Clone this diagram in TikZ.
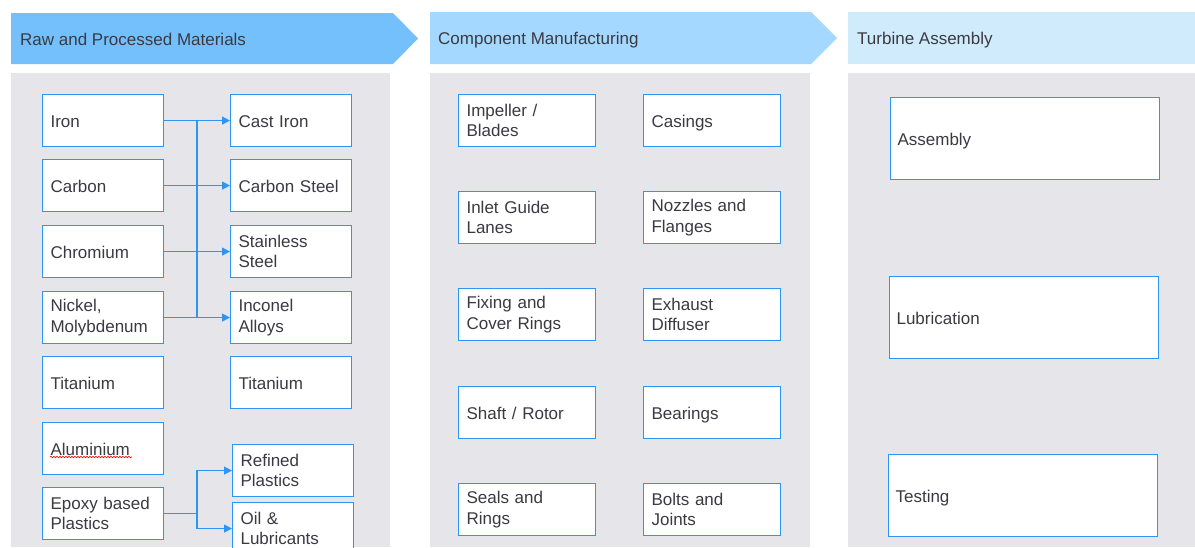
\documentclass[tikz,border=0pt]{standalone}
\usepackage{fontspec}
\setmainfont{Liberation Sans}
\usetikzlibrary{arrows.meta,decorations.pathmorphing}
\definecolor{panelc}{RGB}{229,229,234}
\definecolor{hone}{RGB}{116,192,252}
\definecolor{htwo}{RGB}{165,216,255}
\definecolor{hthree}{RGB}{208,235,252}
\definecolor{textc}{RGB}{58,58,66}
\definecolor{boxblue}{RGB}{45,150,245}
\tikzset{
  txt/.style={text=textc, font=\fontsize{17}{20.5}\selectfont},
  one/.style={text height=13pt, text depth=0pt},
  box/.style={txt, draw=boxblue, fill=white, line width=1.1pt, anchor=north west,
              inner xsep=8pt, inner ysep=0pt, align=left},
  lbox/.style={box, minimum width=121pt, minimum height=52pt, text width=105pt},
  mbox/.style={box, minimum width=137pt, minimum height=52pt, text width=121pt},
  rbox/.style={box, one, minimum width=269pt, minimum height=82pt, text width=255pt, inner xsep=7pt},
  conn/.style={draw=boxblue, line width=1.3pt, -{Triangle[length=8pt,width=8pt]}},
  bus/.style={draw=boxblue, line width=1.3pt},
  htxt/.style={txt, one, anchor=west, inner xsep=0pt}
}
\begin{document}
\begin{tikzpicture}[x=1pt,y=-1pt]
\clip (0,0) rectangle (1195,547);
\fill[white] (0,0) rectangle (1195,547);
% headers
\fill[hone] (11,13) -- (393,13) -- (418,38.5) -- (393,64) -- (11,64) -- cycle;
\node[htxt] (h1) at (20,39) {Raw and Processed Materials};
\fill[htwo] (430,12) -- (811,12) -- (837,38) -- (811,64) -- (430,64) -- cycle;
\node[htxt] (h2) at (438,38) {Component Manufacturing};
\fill[hthree] (848,12) rectangle (1195,64);
\node[htxt] (h3) at (857,38) {Turbine Assembly};
% panels
\fill[panelc] (11,73) rectangle (390,547);
\fill[panelc] (430,73) rectangle (810,547);
\fill[panelc] (848,73) rectangle (1195,547);
% column 1
\node[lbox, one] (iron) at (42,94) {Iron};
\node[lbox, one] (carbon) at (42,159) {Carbon};
\node[lbox, one] (chrom) at (42,225) {Chromium};
\node[lbox] (nickel) at (42,291) {Nickel,\\Molybdenum};
\node[lbox, one] (tit) at (42,356) {Titanium};
\node[lbox, one] (alu) at (42,422) {Aluminium};
\node[lbox] (epoxy) at (42,487) {Epoxy based\\Plastics};
\node[lbox, one] (cast) at (230,94) {Cast Iron};
\node[lbox, one] (csteel) at (230,159) {Carbon Steel};
\node[lbox] (sst) at (230,225) {Stainless\\Steel};
\node[lbox] (inc) at (230,291) {Inconel\\Alloys};
\node[lbox, one] (tit2) at (230,356) {Titanium};
\node[lbox] (refined) at (232,444) {Refined\\Plastics};
\node[lbox] (oil) at (232,502) {Oil \&\\Lubricants};
\draw[red, line width=0.6pt, decorate, decoration={snake, amplitude=0.8pt, segment length=3pt}] (50,457) -- (132,457);
% connectors
\coordinate (busx) at (197,0);
\draw[conn] (iron.east) -- (cast.west);
\draw[conn] (carbon.east) -- (csteel.west);
\draw[conn] (chrom.east) -- (sst.west);
\draw[conn] (nickel.east) -- (inc.west);
\draw[bus] (iron.east -| busx) -- (nickel.east -| busx);
\draw[conn] (epoxy.east) -- (epoxy.east -| busx) |- (refined.west);
\draw[conn] (epoxy.east -| busx) |- (oil.west);
% column 2
\node[mbox] (imp) at (458,94) {Impeller /\\Blades};
\node[mbox] (inlet) at (458,191) {Inlet Guide\\Lanes};
\node[mbox] (fix) at (458,288) {Fixing and\\Cover Rings};
\node[mbox, one] (shaft) at (458,386) {Shaft / Rotor};
\node[mbox] (seals) at (458,483) {Seals and\\Rings};
\node[mbox, one] (cas) at (643,94) {Casings};
\node[mbox] (noz) at (643,191) {Nozzles and\\Flanges};
\node[mbox] (exh) at (643,288) {Exhaust\\Diffuser};
\node[mbox, one] (bear) at (643,386) {Bearings};
\node[mbox] (bolts) at (643,483) {Bolts and\\Joints};
% column 3
\node[rbox] (asm) at (890,97) {Assembly};
\node[rbox] (lub) at (889,276) {Lubrication};
\node[rbox] (test) at (888,454) {Testing};
\end{tikzpicture}
\end{document}
